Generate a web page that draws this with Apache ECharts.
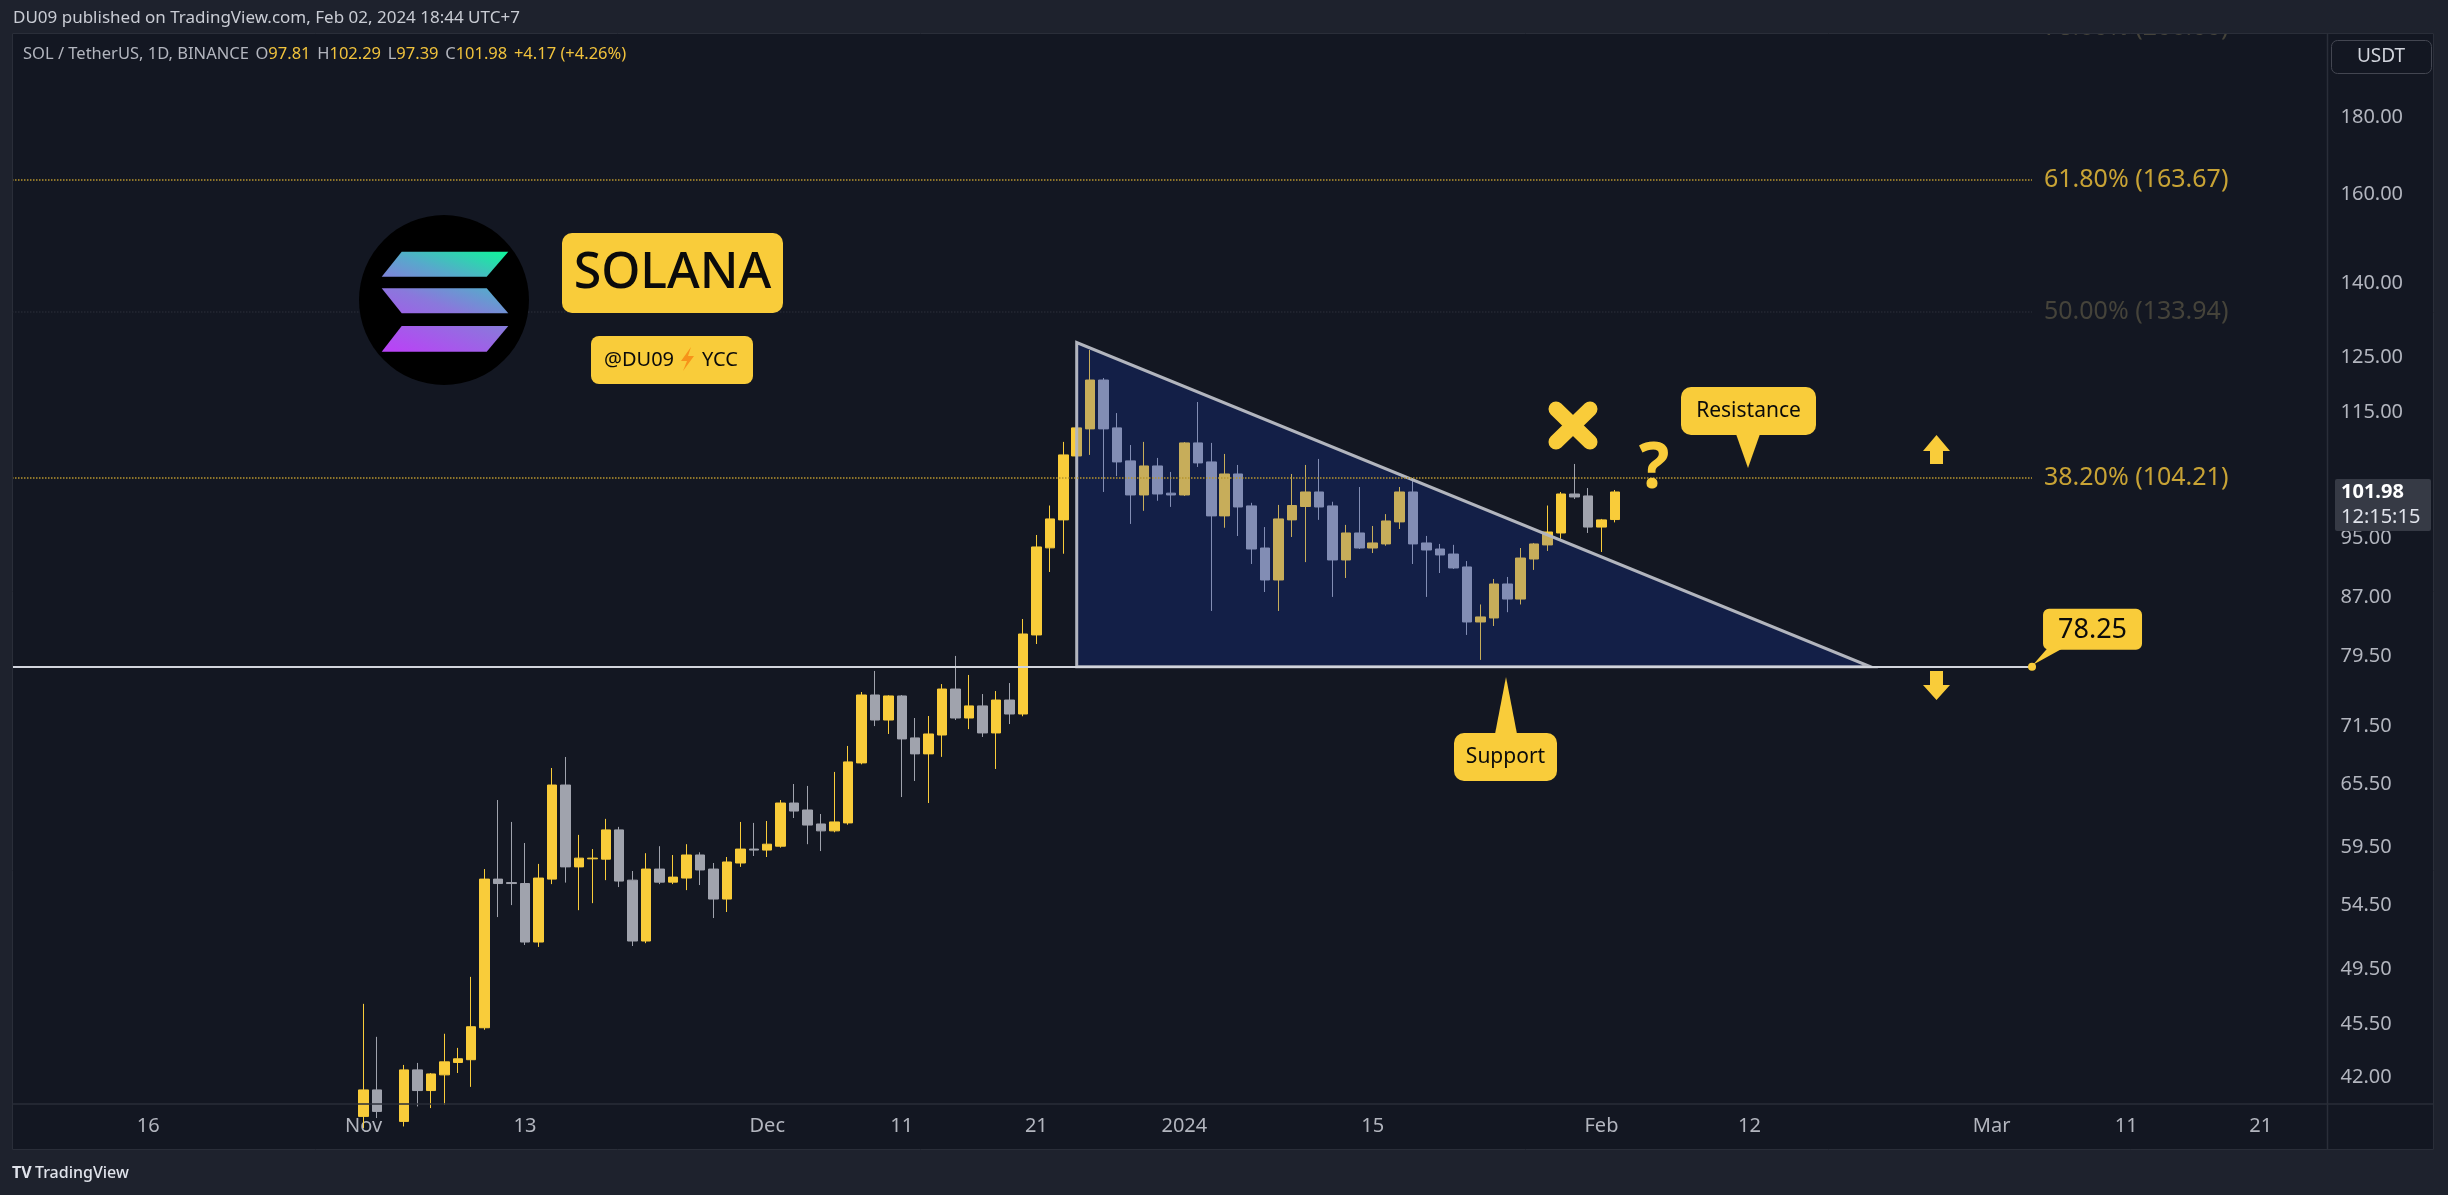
<!DOCTYPE html>
<html>
<head>
<meta charset="utf-8">
<title>SOL / TetherUS 1D</title>
<script src="https://cdn.jsdelivr.net/npm/echarts@6/dist/echarts.min.js"></script>
<style>
  html, body { margin: 0; padding: 0; background: #1e222d; }
  #chart { width: 2448px; height: 1195px; }
</style>
</head>
<body>
<div id="chart"></div>
<script>
// daily candles (SOL/USDT, Binance)
const dates = [
  '2023-11-01','2023-11-02','2023-11-03','2023-11-04','2023-11-05','2023-11-06','2023-11-07','2023-11-08','2023-11-09','2023-11-10',
  '2023-11-11','2023-11-12','2023-11-13','2023-11-14','2023-11-15','2023-11-16','2023-11-17','2023-11-18','2023-11-19','2023-11-20',
  '2023-11-21','2023-11-22','2023-11-23','2023-11-24','2023-11-25','2023-11-26','2023-11-27','2023-11-28','2023-11-29','2023-11-30',
  '2023-12-01','2023-12-02','2023-12-03','2023-12-04','2023-12-05','2023-12-06','2023-12-07','2023-12-08','2023-12-09','2023-12-10',
  '2023-12-11','2023-12-12','2023-12-13','2023-12-14','2023-12-15','2023-12-16','2023-12-17','2023-12-18','2023-12-19','2023-12-20',
  '2023-12-21','2023-12-22','2023-12-23','2023-12-24','2023-12-25','2023-12-26','2023-12-27','2023-12-28','2023-12-29','2023-12-30',
  '2023-12-31','2024-01-01','2024-01-02','2024-01-03','2024-01-04','2024-01-05','2024-01-06','2024-01-07','2024-01-08','2024-01-09',
  '2024-01-10','2024-01-11','2024-01-12','2024-01-13','2024-01-14','2024-01-15','2024-01-16','2024-01-17','2024-01-18','2024-01-19',
  '2024-01-20','2024-01-21','2024-01-22','2024-01-23','2024-01-24','2024-01-25','2024-01-26','2024-01-27','2024-01-28','2024-01-29',
  '2024-01-30','2024-01-31','2024-02-01','2024-02-02'
];
const opens = [
  39.60, 41.22, 39.90, 39.30, 42.49, 41.18, 42.17, 42.97, 43.15, 45.29,
  56.73, 56.43, 56.35, 51.57, 56.73, 65.42, 57.79, 58.50, 58.47, 61.12,
  56.64, 51.65, 57.60, 56.47, 56.82, 58.84, 57.60, 55.04, 58.13, 59.37,
  59.28, 59.63, 63.66, 62.99, 61.67, 61.03, 61.77, 67.65, 74.98, 72.19,
  74.87, 70.26, 68.58, 70.57, 75.66, 72.41, 73.75, 70.79, 74.41, 72.85,
  82.12, 93.70, 97.76, 107.70, 112.21, 120.83, 112.38, 106.90, 101.52, 106.08,
  101.80, 101.52, 109.85, 106.73, 98.35, 104.80, 99.85, 93.68, 89.25, 97.76,
  99.76, 101.98, 99.85, 92.00, 95.84, 93.68, 94.26, 97.46, 101.98, 94.40,
  93.54, 92.83, 91.03, 83.75, 84.26, 88.71, 86.71, 92.13, 94.12, 95.84,
  101.67, 101.37, 96.70, 97.81
];
const highs = [
  46.96, 44.67, 40.20, 42.81, 42.94, 42.29, 44.88, 43.93, 48.92, 57.60,
  63.95, 61.86, 59.92, 58.05, 67.13, 68.26, 60.66, 59.37, 62.15, 61.40,
  57.43, 59.00, 59.63, 58.84, 59.81, 59.08, 58.13, 58.66, 61.86, 61.77,
  61.95, 63.95, 65.52, 65.33, 62.61, 66.73, 69.41, 75.32, 77.76, 74.95,
  74.98, 72.41, 72.63, 76.23, 79.55, 77.29, 75.09, 75.43, 76.35, 84.13,
  95.55, 99.91, 110.02, 117.90, 126.45, 121.20, 114.93, 109.50, 110.02, 107.38,
  105.12, 110.00, 116.87, 109.85, 108.03, 106.24, 100.32, 96.70, 100.00, 104.80,
  106.24, 107.21, 100.48, 97.02, 102.75, 96.86, 98.62, 102.75, 104.16, 95.41,
  94.26, 94.13, 91.85, 86.00, 89.39, 89.66, 93.68, 94.40, 99.91, 101.98,
  106.40, 102.59, 97.90, 102.29
];
const lows = [
  38.90, 39.50, 38.20, 39.00, 40.20, 40.10, 40.30, 42.29, 41.41, 45.15,
  53.56, 54.54, 51.34, 51.19, 56.30, 56.43, 54.12, 54.70, 56.64, 56.05,
  51.26, 51.48, 56.30, 56.30, 55.79, 56.22, 53.48, 53.97, 57.79, 58.75,
  58.66, 59.50, 62.23, 59.81, 59.19, 60.90, 61.60, 67.50, 71.53, 70.68,
  64.24, 65.82, 63.66, 68.27, 72.19, 71.20, 70.36, 67.03, 71.75, 72.60,
  81.00, 90.34, 92.87, 107.20, 107.87, 101.98, 104.46, 97.16, 99.11, 100.63,
  99.70, 101.37, 105.92, 85.16, 96.60, 95.40, 91.44, 87.64, 85.16, 95.26,
  91.70, 97.76, 86.99, 89.52, 93.54, 92.97, 94.00, 96.42, 91.44, 86.99,
  90.20, 90.75, 82.12, 79.07, 83.24, 85.00, 86.00, 90.62, 93.26, 95.00,
  100.90, 95.84, 93.12, 97.39
];
const closes = [
  41.22, 39.90, 39.20, 42.49, 41.18, 42.23, 43.01, 43.21, 45.36, 56.73,
  56.35, 56.35, 51.57, 56.82, 65.42, 57.79, 58.56, 58.56, 61.12, 56.56,
  51.65, 57.60, 56.47, 56.90, 58.84, 57.52, 55.04, 58.22, 59.37, 59.28,
  59.81, 63.66, 62.89, 61.57, 61.03, 61.86, 67.75, 74.98, 72.19, 74.87,
  70.15, 68.58, 70.68, 75.66, 72.41, 73.75, 70.79, 74.41, 72.85, 82.24,
  93.83, 97.90, 107.87, 112.38, 120.83, 112.21, 106.73, 101.52, 106.08, 101.67,
  101.52, 109.85, 106.57, 98.35, 104.80, 99.69, 93.54, 89.25, 97.90, 99.91,
  101.98, 99.69, 92.00, 95.84, 93.68, 94.40, 97.60, 101.98, 94.26, 93.40,
  92.70, 90.89, 83.75, 84.39, 88.71, 86.71, 92.27, 94.26, 95.98, 101.67,
  101.21, 96.70, 97.76, 101.98
];

// axes
const priceTicks = [180, 160, 140, 125, 115, 95, 87, 79.5, 71.5, 65.5, 59.5, 54.5, 49.5, 45.5, 42];
const timeTickDates = ['2023-10-16','2023-11-01','2023-11-13','2023-12-01','2023-12-11','2023-12-21',
  '2024-01-01','2024-01-15','2024-02-01','2024-02-12','2024-03-01','2024-03-11','2024-03-21'];
const timeTickLabels = ['16','Nov','13','Dec','11','21','2024','15','Feb','12','Mar','11','21'];

// drawings
const fibNames = ['78.60%', '61.80%', '50.00%', '38.20%'];
const fibPrices = [206.00, 163.67, 133.94, 104.21];
const supportPrice = 78.25;
const levelLineEnd = '2024-03-04';
const triangleDates = ['2023-12-24', '2023-12-24', '2024-02-21'];
const trianglePrices = [127.9, 78.25, 78.25];

const UP = '#f9cc3a';
const DOWN = '#a0a3ad';
const FONT = '"Noto Sans", sans-serif';

const dayZero = Date.UTC(2023, 9, 16);
const toDay = s => {
  const p = s.split('-').map(Number);
  return (Date.UTC(p[0], p[1] - 1, p[2]) - dayZero) / 86400000;
};
const xMin = -10.13, xMax = 161.96;
const yMin = 40.38, yMax = 204.1;

const candles = dates.map((d, i) => [toDay(d), opens[i], closes[i], lows[i], highs[i]]);
const timeTickDays = timeTickDates.map(toDay);
const lineEnd = toDay(levelLineEnd);

const levelLines = [
  [{ coord: [xMin, supportPrice], lineStyle: { color: '#d1d4dc', width: 2, type: 'solid' } },
   { coord: [lineEnd, supportPrice] }]
];
fibPrices.forEach((p, i) => {
  if (p > yMax) return;
  const faint = fibNames[i] === '50.00%';
  levelLines.push([
    { coord: [xMin, p], lineStyle: { color: faint ? '#252833' : '#b8952e', width: 1.5, type: 'dotted' } },
    { coord: [lineEnd, p] }
  ]);
});

const chart = echarts.init(document.getElementById('chart'));

chart.setOption({
  animation: false,
  backgroundColor: '#131722',
  grid: { left: 12, right: 120.5, top: 34, bottom: 91.5 },
  xAxis: {
    type: 'value', min: xMin, max: xMax,
    axisLine: { show: false }, axisTick: { show: false }, splitLine: { show: false },
    axisLabel: {
      customValues: timeTickDays,
      formatter: v => timeTickLabels[timeTickDays.indexOf(Math.round(v))] || '',
      color: '#b2b5be', fontSize: 20, fontFamily: FONT, margin: 13
    }
  },
  yAxis: {
    type: 'log', position: 'right', min: yMin, max: yMax,
    axisLine: { show: false }, axisTick: { show: false }, splitLine: { show: false },
    axisLabel: {
      customValues: priceTicks,
      formatter: v => Number(v).toFixed(2),
      color: '#b2b5be', fontSize: 20, fontFamily: FONT, margin: 13, align: 'left'
    }
  },
  series: [{
    type: 'candlestick',
    data: candles,
    encode: { x: 0, y: [1, 2, 3, 4] },
    barWidth: 10,
    clip: true,
    itemStyle: { color: UP, color0: DOWN, borderColor: UP, borderColor0: DOWN, borderWidth: 1 },
    markLine: { silent: true, symbol: ['none', 'none'], label: { show: false }, data: levelLines }
  }, {
    // descending triangle drawn on top of the candles
    type: 'custom', z: 3, silent: true,
    data: [[toDay(triangleDates[0]), trianglePrices[0]]],
    renderItem: (params, api) => ({
      type: 'polygon',
      shape: { points: triangleDates.map((d, i) => api.coord([toDay(d), trianglePrices[i]])) },
      style: { fill: 'rgba(22,62,205,0.22)', stroke: '#b2b5be', lineWidth: 3 }
    })
  }]
});

const toPx = (d, p) => chart.convertToPixel({ gridIndex: 0 }, [d, p]);
const lastClose = closes[closes.length - 1];
const tagY = toPx(toDay(dates[dates.length - 1]), lastClose)[1];
const last = dates.length - 1;

const g = [];
// outer frame
g.push({ type: 'rect', z: 200, shape: { x: 0, y: 0, width: 2448, height: 33 }, style: { fill: '#1e222d' } });
g.push({ type: 'rect', z: 200, shape: { x: 0, y: 1150, width: 2448, height: 45 }, style: { fill: '#1e222d' } });
g.push({ type: 'rect', z: 200, shape: { x: 0, y: 33, width: 12, height: 1117 }, style: { fill: '#1e222d' } });
g.push({ type: 'rect', z: 200, shape: { x: 2434, y: 33, width: 14, height: 1117 }, style: { fill: '#1e222d' } });
g.push({ type: 'rect', z: 201, shape: { x: 12.5, y: 33.5, width: 2421, height: 1116 }, style: { fill: null, stroke: '#2a2e39', lineWidth: 1 } });
g.push({ type: 'line', z: 201, shape: { x1: 2327.5, y1: 33, x2: 2327.5, y2: 1150 }, style: { stroke: '#2a2e39', lineWidth: 1.5 } });
g.push({ type: 'line', z: 201, shape: { x1: 12, y1: 1104, x2: 2434, y2: 1104 }, style: { stroke: '#2a2e39', lineWidth: 1.5 } });

// header
g.push({ type: 'text', z: 210, x: 13, y: 18, style: {
  text: 'DU09 published on TradingView.com, Feb 02, 2024 18:44 UTC+7',
  fill: '#c9ccd4', fontSize: 17, fontFamily: FONT, verticalAlign: 'middle' } });
g.push({ type: 'text', z: 210, x: 23, y: 54, style: {
  text: '{g|SOL / TetherUS, 1D, BINANCE}  {g|O}{v|' + opens[last].toFixed(2) + '}  {g|H}{v|' + highs[last].toFixed(2) +
        '}  {g|L}{v|' + lows[last].toFixed(2) + '}  {g|C}{v|' + closes[last].toFixed(2) + '}  {v|+4.17 (+4.26%)}',
  verticalAlign: 'middle',
  rich: {
    g: { fill: '#b2b5be', fontSize: 16.5, fontFamily: FONT },
    v: { fill: '#f0c23c', fontSize: 16.5, fontFamily: FONT }
  } } });

// price axis extras
g.push({ type: 'rect', z: 210, shape: { x: 2331.5, y: 40.5, width: 100, height: 33, r: 6 }, style: { fill: null, stroke: '#434651', lineWidth: 1 } });
g.push({ type: 'text', z: 210, x: 2381, y: 57, style: { text: 'USDT', fill: '#d1d4dc', fontSize: 19, fontFamily: FONT, align: 'center', verticalAlign: 'middle' } });
g.push({ type: 'rect', z: 210, shape: { x: 2335, y: tagY - 13, width: 96, height: 52, r: 2 }, style: { fill: '#363a45' } });
g.push({ type: 'text', z: 211, x: 2341, y: tagY, style: { text: lastClose.toFixed(2), fill: '#ffffff', fontSize: 20, fontWeight: 'bold', fontFamily: FONT, verticalAlign: 'middle' } });
g.push({ type: 'text', z: 211, x: 2341, y: tagY + 25, style: { text: '12:15:15', fill: '#e0e3eb', fontSize: 20, fontFamily: FONT, verticalAlign: 'middle' } });

// fibonacci labels
fibPrices.forEach((p, i) => {
  const y = toPx(lineEnd, p)[1];
  const faint = fibNames[i] === '78.60%' || fibNames[i] === '50.00%';
  g.push({ type: 'text', z: 150, x: 2044, y: y, style: {
    text: fibNames[i] + ' (' + p.toFixed(2) + ')',
    fill: faint ? '#45433a' : '#c8a335', fontSize: 25, fontFamily: FONT, verticalAlign: 'middle' } });
});

// solana logo
g.push({ type: 'circle', z: 100, shape: { cx: 444, cy: 300, r: 85 }, style: { fill: '#000000' } });
const solGrad = new echarts.graphic.LinearGradient(381, 345, 426, 225, [
  { offset: 0, color: '#b844f5' }, { offset: 0.45, color: '#8a78dc' },
  { offset: 0.7, color: '#58a8cc' }, { offset: 1, color: '#14f09e' }], true);
[
  [[401.7, 251.7], [508.3, 251.7], [486.7, 276.7], [381.7, 276.7]],
  [[381.7, 288.3], [486.7, 288.3], [508.3, 313.3], [401.7, 313.3]],
  [[401.7, 326], [508.3, 326], [486.7, 351.7], [381.7, 351.7]]
].forEach(pts => g.push({ type: 'polygon', z: 101, shape: { points: pts }, style: { fill: solGrad } }));

// title boxes
g.push({ type: 'rect', z: 100, shape: { x: 562, y: 233, width: 221, height: 80, r: 10 }, style: { fill: UP } });
g.push({ type: 'text', z: 101, x: 672.5, y: 274, style: { text: 'SOLANA', fill: '#0b0b0b', fontSize: 50, fontWeight: 500, fontFamily: FONT, align: 'center', verticalAlign: 'middle' } });
g.push({ type: 'rect', z: 100, shape: { x: 591, y: 336, width: 162, height: 48, r: 8 }, style: { fill: UP } });
g.push({ type: 'text', z: 101, x: 639, y: 360, style: { text: '@DU09', fill: '#0b0b0b', fontSize: 20, fontFamily: FONT, align: 'center', verticalAlign: 'middle' } });
g.push({ type: 'polygon', z: 101, shape: { points: [[691, 347], [681, 361], [687, 361], [683, 371], [694, 356], [688, 356]] }, style: { fill: '#f7931a' } });
g.push({ type: 'text', z: 101, x: 720, y: 360, style: { text: 'YCC', fill: '#0b0b0b', fontSize: 20, fontFamily: FONT, align: 'center', verticalAlign: 'middle' } });

// X mark and question
g.push({ type: 'line', z: 100, shape: { x1: 1556, y1: 409, x2: 1590, y2: 442 }, style: { stroke: UP, lineWidth: 15, lineCap: 'round' } });
g.push({ type: 'line', z: 100, shape: { x1: 1590, y1: 409, x2: 1556, y2: 442 }, style: { stroke: UP, lineWidth: 15, lineCap: 'round' } });
g.push({ type: 'text', z: 100, x: 1654, y: 470, style: { text: '?', fill: UP, fontSize: 64, fontWeight: 'bold', fontFamily: FONT, align: 'center', verticalAlign: 'middle' } });

// resistance callout
g.push({ type: 'rect', z: 100, shape: { x: 1681, y: 387, width: 135, height: 48, r: 10 }, style: { fill: UP } });
g.push({ type: 'polygon', z: 100, shape: { points: [[1736, 434], [1760, 434], [1748, 468]] }, style: { fill: UP } });
g.push({ type: 'text', z: 101, x: 1748.5, y: 411, style: { text: 'Resistance', fill: '#0b0b0b', fontSize: 21, fontFamily: FONT, align: 'center', verticalAlign: 'middle' } });

// support callout
g.push({ type: 'rect', z: 100, shape: { x: 1454, y: 733, width: 103, height: 48, r: 10 }, style: { fill: UP } });
g.push({ type: 'polygon', z: 100, shape: { points: [[1495, 734], [1517, 734], [1506, 677]] }, style: { fill: UP } });
g.push({ type: 'text', z: 101, x: 1505.5, y: 757, style: { text: 'Support', fill: '#0b0b0b', fontSize: 21, fontFamily: FONT, align: 'center', verticalAlign: 'middle' } });

// arrows
g.push({ type: 'polygon', z: 100, shape: { points: [[1923, 451], [1936.5, 435], [1950, 451], [1943, 451], [1943, 464], [1930, 464], [1930, 451]] }, style: { fill: UP } });
g.push({ type: 'polygon', z: 100, shape: { points: [[1930, 671], [1943, 671], [1943, 685], [1950, 685], [1936.5, 700], [1923, 685], [1930, 685]] }, style: { fill: UP } });

// 78.25 callout
const sp = toPx(lineEnd, supportPrice);
g.push({ type: 'polygon', z: 100, shape: { points: [[sp[0] + 1, sp[1] - 2], [sp[0] + 15, sp[1] - 18], [sp[0] + 30, sp[1] - 18]] }, style: { fill: UP } });
g.push({ type: 'circle', z: 100, shape: { cx: sp[0], cy: sp[1], r: 4 }, style: { fill: UP } });
g.push({ type: 'rect', z: 100, shape: { x: sp[0] + 11, y: sp[1] - 58, width: 99, height: 41, r: 6 }, style: { fill: UP } });
g.push({ type: 'text', z: 101, x: sp[0] + 60.5, y: sp[1] - 37, style: { text: supportPrice.toFixed(2), fill: '#0b0b0b', fontSize: 27, fontFamily: FONT, align: 'center', verticalAlign: 'middle' } });

// footer logo
g.push({ type: 'text', z: 210, x: 12, y: 1173, style: {
  text: '{b|TV} {t|TradingView}', verticalAlign: 'middle',
  rich: { b: { fill: '#e0e3eb', fontSize: 16, fontWeight: 'bold', fontFamily: FONT },
          t: { fill: '#e0e3eb', fontSize: 16, fontWeight: 500, fontFamily: FONT } } } });

chart.setOption({ graphic: { elements: g } });
</script>
</body>
</html>
